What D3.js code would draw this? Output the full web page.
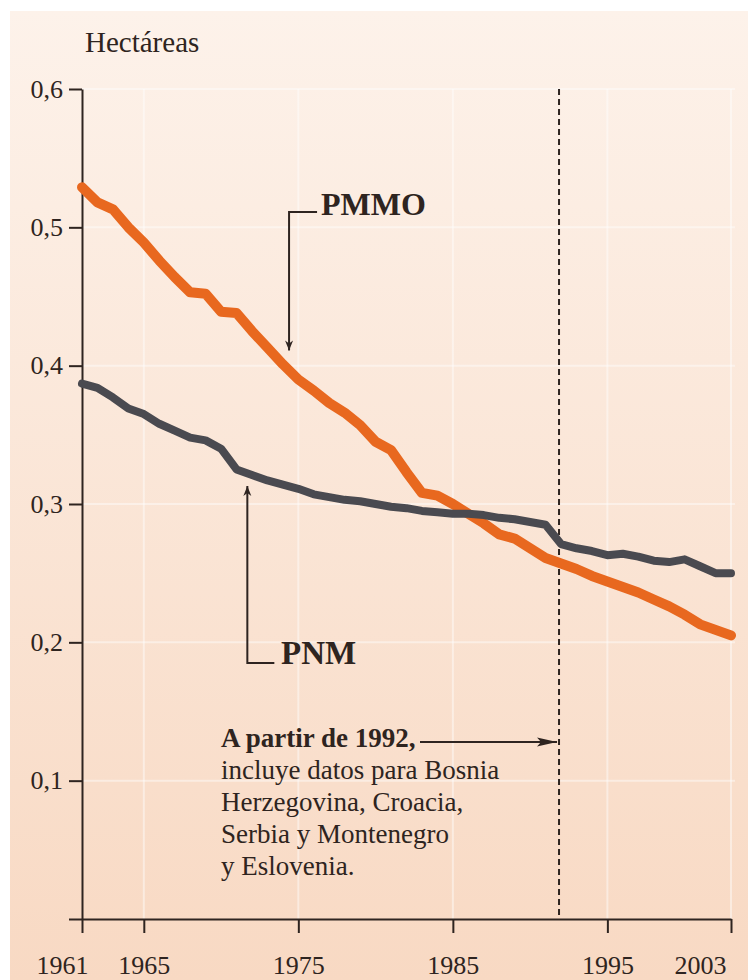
<!DOCTYPE html>
<html>
<head>
<meta charset="utf-8">
<script src="https://cdn.jsdelivr.net/npm/d3@7"></script>
<style>
  body { margin: 0; background: #ffffff; }
</style>
</head>
<body>
<div id="chart"></div>
<script>
// datos (hectáreas por persona)
const years = d3.range(1961, 2004);
const pmmo = [0.529, 0.518, 0.513, 0.500, 0.489, 0.476, 0.464, 0.453, 0.452, 0.439,
              0.438, 0.425, 0.413, 0.401, 0.390, 0.382, 0.373, 0.366, 0.357, 0.345,
              0.339, 0.323, 0.308, 0.306, 0.300, 0.293, 0.286, 0.278, 0.275, 0.268,
              0.261, 0.257, 0.253, 0.248, 0.244, 0.240, 0.236, 0.231, 0.226, 0.220,
              0.213, 0.209, 0.205];
const pnm = [0.387, 0.384, 0.377, 0.369, 0.365, 0.358, 0.353, 0.348, 0.346, 0.340,
             0.325, 0.321, 0.317, 0.314, 0.311, 0.307, 0.305, 0.303, 0.302, 0.300,
             0.298, 0.297, 0.295, 0.294, 0.293, 0.293, 0.292, 0.290, 0.289, 0.287,
             0.285, 0.271, 0.268, 0.266, 0.263, 0.264, 0.262, 0.259, 0.258, 0.260,
             0.255, 0.250, 0.250];
const xTicks = [1961, 1965, 1975, 1985, 1995, 2003];
const yTicks = [0, 0.1, 0.2, 0.3, 0.4, 0.5, 0.6];
const noteLines = ['incluye datos para Bosnia', 'Herzegovina, Croacia,',
                   'Serbia y Montenegro', 'y Eslovenia.'];

const width = 748;
const height = 980;
const serif = '"Liberation Serif", "DejaVu Serif", "Noto Serif", "Times New Roman", Times, serif';
const ink = '#2e2420';

const svg = d3.select('#chart')
  .append('svg')
  .attr('width', width)
  .attr('height', height);

// fondo con degradado
const defs = svg.append('defs');
const grad = defs.append('linearGradient')
  .attr('id', 'bg')
  .attr('x1', 0).attr('y1', 0).attr('x2', 0).attr('y2', 1);
grad.append('stop').attr('offset', '0%').attr('stop-color', '#fdf2ea');
grad.append('stop').attr('offset', '100%').attr('stop-color', '#f8d9c3');

defs.append('marker')
  .attr('id', 'arrowSmall')
  .attr('viewBox', '0 0 10 10')
  .attr('refX', 10).attr('refY', 5)
  .attr('markerWidth', 10).attr('markerHeight', 10)
  .attr('markerUnits', 'userSpaceOnUse')
  .attr('orient', 'auto')
  .append('path')
  .attr('d', 'M0,1 L10,5 L0,9 L3,5 Z')
  .attr('fill', ink);

defs.append('marker')
  .attr('id', 'arrowBig')
  .attr('viewBox', '0 0 20 10')
  .attr('refX', 20).attr('refY', 5)
  .attr('markerWidth', 20).attr('markerHeight', 10)
  .attr('markerUnits', 'userSpaceOnUse')
  .attr('orient', 'auto')
  .append('path')
  .attr('d', 'M0,0.5 L20,5 L0,9.5 L4,5 Z')
  .attr('fill', ink);

svg.append('rect')
  .attr('x', 10).attr('y', 11)
  .attr('width', width - 10).attr('height', height - 11)
  .attr('fill', 'url(#bg)');

const x = d3.scaleLinear().domain([1961, 2003]).range([82, 731]);
const y = d3.scaleLinear().domain([0, 0.6]).range([919, 89]);

// rejilla blanca suave
svg.append('g')
  .selectAll('line')
  .data(yTicks.slice(1))
  .enter()
  .append('line')
  .attr('x1', x(1961)).attr('x2', x(2003) + 4)
  .attr('y1', d => y(d)).attr('y2', d => y(d))
  .attr('stroke', '#ffffff').attr('stroke-width', 2).attr('opacity', 0.45);

svg.append('g')
  .selectAll('line')
  .data(xTicks.slice(1))
  .enter()
  .append('line')
  .attr('x1', d => x(d)).attr('x2', d => x(d))
  .attr('y1', y(0.6)).attr('y2', y(0))
  .attr('stroke', '#ffffff').attr('stroke-width', 2).attr('opacity', 0.45);

// ejes
const yAxis = svg.append('g')
  .attr('transform', `translate(${x(1961)},0)`)
  .call(d3.axisLeft(y)
    .tickValues(yTicks)
    .tickSize(13)
    .tickSizeOuter(0)
    .tickPadding(6)
    .tickFormat(d => d === 0 ? '' : d3.format('.1f')(d).replace('.', ',')));

const xAxis = svg.append('g')
  .attr('transform', `translate(0,${y(0)})`)
  .call(d3.axisBottom(x)
    .tickValues(xTicks)
    .tickSize(14)
    .tickSizeOuter(0)
    .tickFormat(d3.format('d')));

[yAxis, xAxis].forEach(g => {
  g.attr('font-family', null);
  g.select('.domain').attr('stroke', ink).attr('stroke-width', 2);
  g.selectAll('.tick line').attr('stroke', ink).attr('stroke-width', 2);
  g.selectAll('.tick text')
    .style('font-family', serif)
    .style('font-size', '26px')
    .attr('fill', ink);
});

xAxis.selectAll('.tick text')
  .attr('y', 37)
  .attr('dx', d => d === 1961 ? -20 : (d === 2003 ? -31 : 0));

svg.append('text')
  .attr('x', 85).attr('y', 52)
  .style('font-family', serif)
  .style('font-size', '29px')
  .attr('fill', ink)
  .text('Hectáreas');

// línea vertical de 1992
svg.append('line')
  .attr('x1', x(1992) - 2).attr('x2', x(1992) - 2)
  .attr('y1', y(0.6)).attr('y2', y(0))
  .attr('stroke', ink)
  .attr('stroke-width', 2)
  .attr('stroke-dasharray', '6,4');

// series
const line = d3.line()
  .x((d, i) => x(years[i]))
  .y(d => y(d));

svg.append('path')
  .datum(pmmo)
  .attr('d', line)
  .attr('fill', 'none')
  .attr('stroke', '#e8681f')
  .attr('stroke-width', 10)
  .attr('stroke-linejoin', 'round')
  .attr('stroke-linecap', 'round');

svg.append('path')
  .datum(pnm)
  .attr('d', line)
  .attr('fill', 'none')
  .attr('stroke', '#4a4a50')
  .attr('stroke-width', 8)
  .attr('stroke-linejoin', 'round')
  .attr('stroke-linecap', 'round');

// etiquetas con flechas
svg.append('path')
  .attr('d', `M${x(1974.4) + 28},212 H${x(1974.4)} V${y(0.411)}`)
  .attr('fill', 'none')
  .attr('stroke', ink)
  .attr('stroke-width', 2)
  .attr('marker-end', 'url(#arrowSmall)');

svg.append('text')
  .attr('x', 321).attr('y', 215)
  .style('font-family', serif)
  .style('font-size', '32px')
  .style('font-weight', 'bold')
  .attr('fill', ink)
  .text('PMMO');

svg.append('path')
  .attr('d', `M${x(1971.7) + 27},663 H${x(1971.7)} V${y(0.313)}`)
  .attr('fill', 'none')
  .attr('stroke', ink)
  .attr('stroke-width', 2)
  .attr('marker-end', 'url(#arrowSmall)');

svg.append('text')
  .attr('x', 281).attr('y', 664)
  .style('font-family', serif)
  .style('font-size', '33px')
  .style('font-weight', 'bold')
  .attr('fill', ink)
  .text('PNM');

// nota de 1992
const note = svg.append('text')
  .attr('x', 221).attr('y', 747)
  .style('font-family', serif)
  .style('font-size', '27px')
  .attr('fill', ink);

note.append('tspan')
  .style('font-weight', 'bold')
  .text('A partir de 1992,');

noteLines.forEach(t => {
  note.append('tspan')
    .attr('x', 221)
    .attr('dy', 32)
    .text(t);
});

svg.append('line')
  .attr('x1', 420).attr('x2', x(1992) - 4)
  .attr('y1', 742).attr('y2', 742)
  .attr('stroke', ink)
  .attr('stroke-width', 2)
  .attr('marker-end', 'url(#arrowBig)');
</script>
</body>
</html>
